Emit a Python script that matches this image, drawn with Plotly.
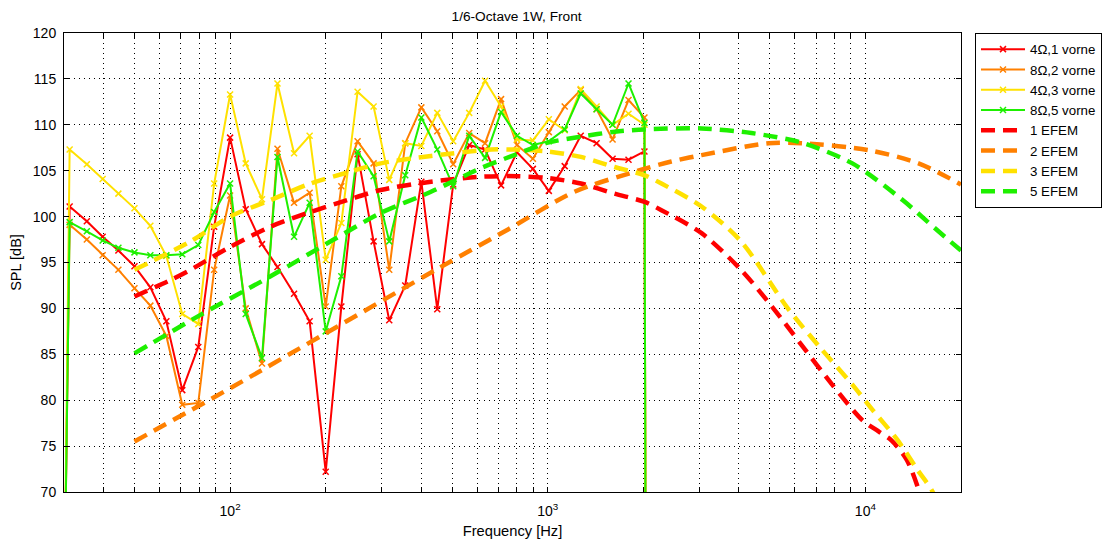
import numpy as np
import plotly.graph_objects as go

# ---------------- data ----------------
# measured 1/6-octave responses (Hz, dB)
f_meas = [30, 31.25, 35.4, 39.7, 44.5, 50, 56.1, 63, 70.7, 79.4, 89.1, 100, 112, 126, 141,
          159, 178, 200, 224, 252, 283, 317, 356, 400, 449, 504, 566, 635, 713, 800,
          898, 1008, 1131, 1270, 1425, 1600, 1796, 2016, 2040]

spl_4ohm_1 = [55, 101.1, 99.5, 97.8, 96.3, 94.6, 92.3, 88.6, 81.1, 85.8, 98.9, 108.6, 100.8, 97.0, 94.5,
              91.6, 88.6, 72.2, 90.2, 106.8, 97.3, 88.7, 92.5, 103.8, 89.9, 103.5, 107.8, 107.3, 103.4, 107.0,
              105.2, 102.8, 105.5, 108.8, 108.0, 106.3, 106.2, 107.1, 40]
spl_8ohm_2 = [55, 99.1, 97.5, 95.8, 94.2, 92.2, 90.3, 87.0, 79.5, 79.7, 94.2, 102.3, 90.0, 84.0, 107.4,
              101.5, 102.6, 90.2, 103.3, 108.2, 105.8, 94.2, 108.0, 111.9, 109.3, 105.7, 109.1, 108.0, 112.8, 107.8,
              106.3, 109.2, 112.0, 113.8, 111.7, 108.4, 112.7, 110.8, 40]
spl_4ohm_3 = [55, 107.3, 105.7, 104.1, 102.5, 100.9, 99.0, 95.7, 89.4, 88.3, 103.6, 113.3, 105.8, 101.9, 114.5,
              106.9, 108.8, 95.3, 99.3, 113.6, 112.0, 104.0, 108.0, 107.7, 111.3, 108.2, 111.3, 114.8, 112.0, 108.4,
              108.3, 110.6, 109.4, 113.9, 112.0, 110.0, 111.2, 110.0, 40]
spl_8ohm_5 = [55, 99.4, 98.4, 97.4, 96.6, 96.1, 95.8, 95.8, 95.9, 96.9, 100.5, 103.6, 89.4, 84.6, 106.5,
              97.8, 101.5, 87.5, 93.5, 107.1, 104.4, 97.3, 104.5, 110.8, 107.3, 103.3, 108.8, 106.4, 111.4, 108.8,
              107.8, 108.2, 109.5, 113.4, 111.7, 110.0, 114.5, 110.2, 40]

# simulated (EFEM) curves
f_efem1 = [50, 65, 75, 100, 134, 179, 234, 298, 429, 617, 800, 1000, 1272, 1623, 2020, 2280,
           3050, 4060, 5080, 6300, 7860, 9800, 11000, 12100, 13500, 14800, 16000]
spl_efem1 = [91.3, 93.1, 94.2, 96.7, 98.9, 100.5, 101.8, 102.9, 103.8, 104.35, 104.4, 104.2, 103.6, 102.5, 101.6, 100.7,
             98.2, 94.2, 90.2, 86.0, 81.7, 77.8, 76.6, 75.6, 73.5, 70.0, 66.0]

f_efem2 = [50, 100, 198, 460, 750, 1214, 1972, 2450, 3050, 4960, 6300, 10200, 14700, 20000]
spl_efem2 = [75.5, 81.3, 87.2, 94.5, 98.6, 102.7, 105.1, 106.0, 106.7, 108.0, 108.0, 107.25, 105.8, 103.5]

f_efem3 = [50, 75, 100, 134, 179, 234, 298, 429, 663, 785, 1000, 1272, 1623, 2020, 2280, 3050,
           4060, 5700, 7300, 9100, 10500, 12600, 14600, 16300, 17500]
spl_efem3 = [94.2, 97.3, 100.0, 101.8, 103.6, 104.8, 105.8, 106.6, 107.3, 107.3, 107.1, 106.5, 105.4, 104.5, 103.6, 101.1,
             97.3, 90.0, 85.5, 81.7, 79.0, 75.7, 72.4, 70.0, 67.0]

f_efem5 = [50, 80.7, 131, 212, 298, 429, 617, 785, 1000, 1272, 1623, 2020, 3050, 4380, 6300,
           9100, 13100, 16600, 20000]
spl_efem5 = [85.1, 89.3, 93.3, 97.5, 100.4, 102.7, 105.3, 106.7, 108.05, 108.7, 109.25, 109.5, 109.6, 109.1, 108.05,
             105.8, 101.8, 98.7, 96.3]

names_meas = ["4Ω,1 vorne", "8Ω,2 vorne", "4Ω,3 vorne", "8Ω,5 vorne"]
names_efem = ["1 EFEM", "2 EFEM", "3 EFEM", "5 EFEM"]

x_major = [100, 1000, 10000]
x_major_text = ["10<sup>2</sup>", "10<sup>3</sup>", "10<sup>4</sup>"]

RED = "rgb(255,0,0)"
ORANGE = "rgb(255,128,0)"
YELLOW = "rgb(255,225,0)"
GREEN = "rgb(30,240,0)"

fig = go.Figure()

for name, y, c in zip(names_meas, [spl_4ohm_1, spl_8ohm_2, spl_4ohm_3, spl_8ohm_5],
                      [RED, ORANGE, YELLOW, GREEN]):
    fig.add_trace(go.Scatter(
        x=f_meas, y=y, name=name, mode="lines+markers",
        line=dict(color=c, width=2),
        marker=dict(symbol="x-thin", size=6, line=dict(color=c, width=1.5), color=c),
    ))

for name, fx, y, c in zip(names_efem, [f_efem1, f_efem2, f_efem3, f_efem5],
                          [spl_efem1, spl_efem2, spl_efem3, spl_efem5],
                          [RED, ORANGE, YELLOW, GREEN]):
    fig.add_trace(go.Scatter(
        x=fx, y=y, name=name, mode="lines",
        line=dict(color=c, width=4.5, dash="14px,8px", shape="spline", smoothing=0.8),
    ))

# minor x ticks / grid at 2..9 multiples of each decade
x_minor = [m * d for d in [10, 100, 1000, 10000] for m in range(2, 10) if 30 <= m * d <= 20000]

font_family = "Liberation Sans, Arial, sans-serif"

# page body has an 8px margin, so the figure is 8px smaller than the window on each axis
fig.update_layout(
    width=1102, height=532,
    margin=dict(l=56, r=149, t=25, b=48, autoexpand=False),
    paper_bgcolor="white", plot_bgcolor="white",
    font=dict(family=font_family, size=14, color="black"),
    title=dict(text="1/6-Octave 1W, Front", x=0.4615, xanchor="center", y=0.985, yanchor="middle",
               font=dict(size=13.7)),
    showlegend=True,
    legend=dict(x=1.0156, y=1.0, xanchor="left", yanchor="top",
                bordercolor="black", borderwidth=1, bgcolor="white",
                font=dict(size=13.3), tracegroupgap=0, itemwidth=44),
)

fig.update_xaxes(
    type="log", range=[np.log10(30), np.log10(20000)],
    tickmode="array", tickvals=x_major, ticktext=x_major_text, tickangle=0,
    ticks="inside", ticklen=5, tickcolor="black", ticklabelstandoff=6,
    minor=dict(tickmode="array", tickvals=x_minor, ticks="inside", ticklen=5, tickcolor="black",
               showgrid=True, gridcolor="black", gridwidth=1, griddash="1px,4px"),
    showline=True, linecolor="black", linewidth=1, mirror="ticks",
    showgrid=True, gridcolor="black", gridwidth=1, griddash="1px,4px",
    zeroline=False, automargin=False,
    title=dict(text="Frequency [Hz]", standoff=7, font=dict(size=14.7)),
    tickfont=dict(size=14),
)
fig.update_yaxes(
    range=[70, 120], tickmode="linear", tick0=70, dtick=5,
    ticks="inside", ticklen=5, tickcolor="black", ticklabelstandoff=4,
    showline=True, linecolor="black", linewidth=1, mirror="ticks",
    showgrid=True, gridcolor="black", gridwidth=1, griddash="1px,4px",
    zeroline=False, automargin=False,
    title=dict(text="SPL [dB]", standoff=8, font=dict(size=14.5)),
    tickfont=dict(size=14),
)

fig.write_html("out.html")
